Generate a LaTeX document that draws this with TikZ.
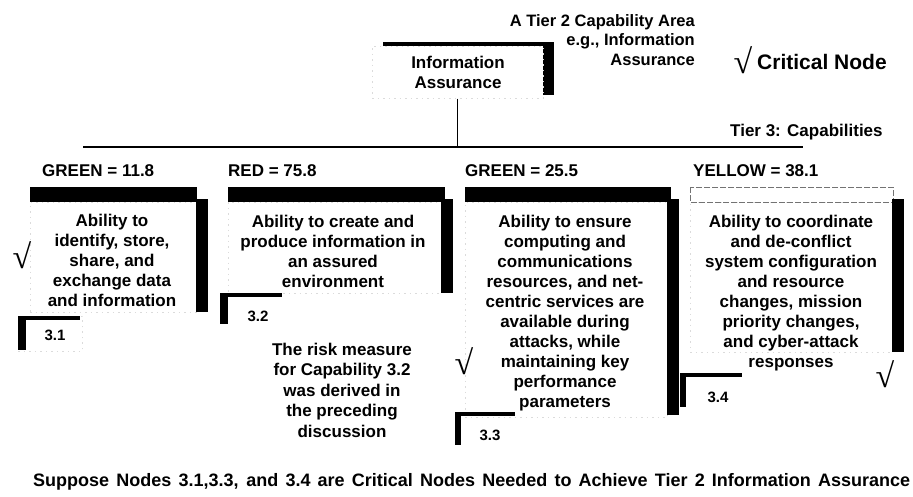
\documentclass[tikz,border=0pt]{standalone}
\usepackage{fontspec}
\setmainfont{Liberation Sans}
\newfontfamily\chkfont{Liberation Serif}
\begin{document}
\begin{tikzpicture}[x=1pt,y=-1pt,
  body/.style={font=\fontsize{17}{20}\selectfont\bfseries, align=center, inner sep=0pt},
  head/.style={font=\fontsize{17}{20}\selectfont\bfseries, anchor=west, inner sep=0pt},
  tag/.style={font=\fontsize{15}{18}\selectfont\bfseries, inner sep=0pt},
  chk/.style={font=\fontsize{34}{34}\selectfont\chkfont\bfseries, inner sep=0pt},
  panel/.style={fill=white, draw=black!14, dash pattern=on 1.5pt off 4pt, line width=0.5pt, inner sep=0pt},
  bar/.style={fill=black},
  wire/.style={draw=black, line width=1.2pt}
]
\useasboundingbox[fill=white] (0,0) rectangle (913,496);

% ---- Tier 2 capability area ----
\fill[bar] (383,42) rectangle (554,95);
\node[panel, anchor=north west, minimum width=171pt, minimum height=52pt] (t2) at (372,46) {};
\node[body, anchor=north] (t2txt) at (458,55.5) {Information\\Assurance};

\node[font=\fontsize{16.5}{19.5}\selectfont\bfseries, align=right, anchor=north east, inner sep=0pt]
  (t2note) at (695,14) {A Tier 2 Capability Area\\e.g., Information\\Assurance};

\node[chk] (legchk) at (743,60) {√};
\node[font=\fontsize{21}{24}\selectfont\bfseries, anchor=west, inner sep=0pt] (legtxt) at (757,62) {Critical Node};

\node[head] (tier3) at (730,132) {Tier 3: Capabilities};

% ---- bus ----
\coordinate (busL) at (83,147);
\coordinate (busR) at (803,147);
\draw[wire] (busL) -- (busR);
\draw[wire] (t2.south) -- (t2.south |- busL);

% ---- capability 3.1 ----
\node[head] (h1) at (42,171) {GREEN = 11.8};
\node[panel, anchor=north west, minimum width=166pt, minimum height=110pt] (c1) at (30,202) {};
\fill[bar] (30,187) rectangle (197,202);
\fill[bar] (196,199) rectangle (208,312);
\node[body, anchor=north] (c1txt) at (112,213.5) {Ability to\\identify, store,\\share, and\\exchange data\\and information};
\node[panel, anchor=north west, minimum width=64pt, minimum height=35pt] (l1) at (18,316) {};
\fill[bar] (18,316) rectangle (80,320);
\fill[bar] (18,316) rectangle (26,350);
\node[tag] (l1txt) at (55,335) {3.1};
\node[chk] (k1) at (22,255) {√};

% ---- capability 3.2 ----
\node[head] (h2) at (228,171) {RED = 75.8};
\node[panel, anchor=north west, minimum width=213pt, minimum height=91pt] (c2) at (228,202) {};
\fill[bar] (228,187) rectangle (445,202);
\fill[bar] (441,199) rectangle (453,293);
\node[body, anchor=north] (c2txt) at (333,214.5) {Ability to create and\\produce information in\\an assured\\environment};
\fill[bar] (220,293) rectangle (282,297);
\fill[bar] (220,293) rectangle (228,324);
\node[tag] (l2txt) at (258,316) {3.2};

\node[font=\fontsize{17}{20.5}\selectfont\bfseries, align=center, inner sep=0pt, anchor=north]
  (remark) at (342,342.5) {The risk measure\\for Capability 3.2\\was derived in\\the preceding\\discussion};

% ---- capability 3.3 ----
\node[head] (h3) at (465,171) {GREEN = 25.5};
\node[panel, anchor=north west, minimum width=202pt, minimum height=215pt] (c3) at (465,202) {};
\fill[bar] (465,187) rectangle (671,202);
\fill[bar] (667,199) rectangle (679,415);
\node[body, anchor=north] (c3txt) at (565,214.5) {Ability to ensure\\computing and\\communications\\resources, and net-\\centric services are\\available during\\attacks, while\\maintaining key\\performance\\parameters};
\fill[bar] (455,412) rectangle (515,416);
\fill[bar] (455,412) rectangle (461,445);
\node[tag] (l3txt) at (490,435) {3.3};
\node[chk] (k3) at (464,361) {√};

% ---- capability 3.4 ----
\node[head] (h4) at (693,171) {YELLOW = 38.1};
\node[panel, anchor=north west, minimum width=202pt, minimum height=150pt] (c4) at (690,202) {};
\draw[draw=black!55, dash pattern=on 6pt off 2pt, line width=0.8pt] (690,187) rectangle (893,202);
\fill[bar] (892,199) rectangle (904,352);
\node[body, anchor=north] (c4txt) at (791,214.5) {Ability to coordinate\\and de-conflict\\system configuration\\and resource\\changes, mission\\priority changes,\\and cyber-attack\\responses};
\fill[bar] (680,373) rectangle (742,377);
\fill[bar] (680,373) rectangle (686,407);
\node[tag] (l4txt) at (718,397) {3.4};
\node[chk] (k4) at (885,374) {√};

% ---- footnote ----
\node[font=\fontsize{18}{20}\selectfont\bfseries, anchor=west, inner sep=0pt] (foot) at (33,482)
  {\makebox[877pt][s]{Suppose Nodes 3.1,3.3, and 3.4 are Critical Nodes Needed to Achieve Tier 2 Information Assurance}};
\end{tikzpicture}
\end{document}
